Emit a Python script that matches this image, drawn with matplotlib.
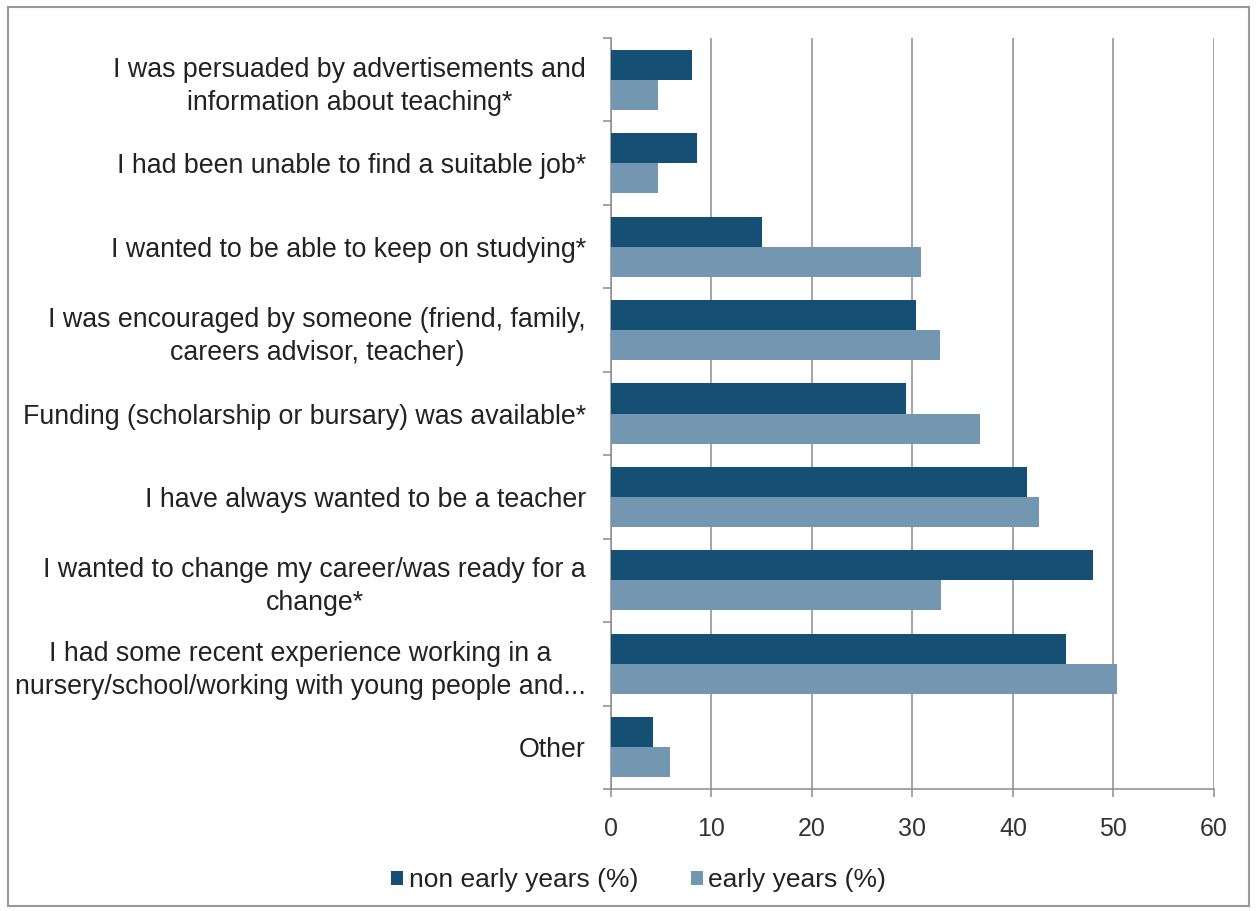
import matplotlib.pyplot as plt
import numpy as np
from matplotlib.patches import Rectangle

plt.rcParams['font.family'] = ['Liberation Sans', 'DejaVu Sans']

# reasons for choosing teacher training, top to bottom
reasons = ['I was persuaded by advertisements and\ninformation about teaching*',
           'I had been unable to find a suitable job*',
           'I wanted to be able to keep on studying*',
           'I was encouraged by someone (friend, family,\ncareers advisor, teacher)',
           'Funding (scholarship or bursary) was available*',
           'I have always wanted to be a teacher',
           'I wanted to change my career/was ready for a\nchange*',
           'I had some recent experience working in a\nnursery/school/working with young people and...',
           'Other']
non_early_years = [8.1, 8.6, 15.0, 30.4, 29.4, 41.4, 48.0, 45.3, 4.2]
early_years = [4.7, 4.7, 30.9, 32.7, 36.7, 42.6, 32.8, 50.4, 5.9]
x_ticks = [0, 10, 20, 30, 40, 50, 60]

dark = '#164f74'
light = '#7497b1'
grid_col = '#8c8c8c'
text_col = '#222222'

fig = plt.figure(figsize=(12.57, 9.11), dpi=100)
ax = fig.add_axes([0.486, 0.1339, 0.4797, 0.8244])

# gray frame around the whole chart
fig.patches.append(Rectangle((0.006, 0.006), 0.988, 0.986, transform=fig.transFigure,
                             fill=False, edgecolor='#999999', linewidth=1.5))

y = np.arange(len(reasons))
h = 0.36
ax.barh(y - h / 2, non_early_years, height=h, color=dark, label='non early years (%)', zorder=3)
ax.barh(y + h / 2, early_years, height=h, color=light, label='early years (%)', zorder=3)

ax.set_xlim(0, 60)
ax.set_ylim(len(reasons) - 0.5, -0.5)
ax.set_xticks(x_ticks)
ax.set_xticklabels([str(t) for t in x_ticks], fontsize=18, color='#333333')
ax.xaxis.grid(True, color=grid_col, linewidth=1.1, zorder=0)

ax.set_yticks(y)
ax.set_yticklabels(reasons, fontsize=19.3, color=text_col, linespacing=1.35)
for lab in ax.get_yticklabels():
    lab.set_multialignment('center')

# category boundary ticks on the value axis
ax.set_yticks(np.arange(len(reasons) + 1) - 0.5, minor=True)
ax.tick_params(axis='y', which='major', length=0, pad=18)
ax.tick_params(axis='y', which='minor', length=6, color=grid_col, width=1.1)
ax.tick_params(axis='x', length=6, color=grid_col, width=1.1, pad=14)

for side in ['top', 'right']:
    ax.spines[side].set_visible(False)
ax.spines['left'].set_color(grid_col)
ax.spines['bottom'].set_color(grid_col)
ax.spines['left'].set_linewidth(1.1)
ax.spines['bottom'].set_linewidth(1.1)

leg = fig.legend(loc='center', bbox_to_anchor=(0.508, 0.034), ncol=2, frameon=False,
                 fontsize=19, handlelength=0.45, handleheight=0.45, handletextpad=0.2,
                 columnspacing=2.0)
for t in leg.get_texts():
    t.set_color(text_col)

fig.savefig('out.png', dpi=100)
